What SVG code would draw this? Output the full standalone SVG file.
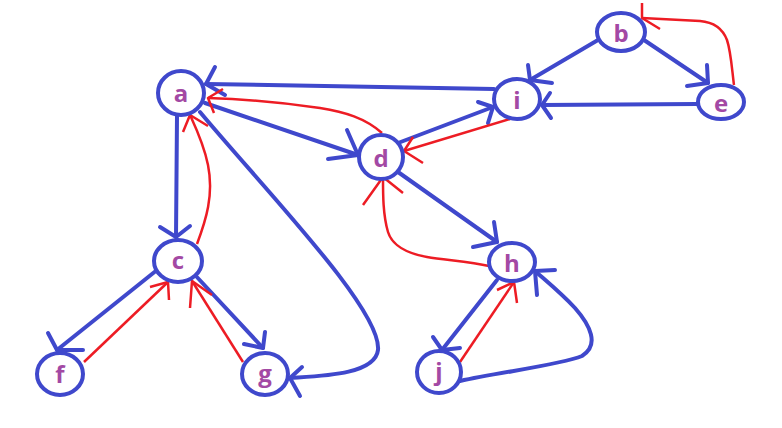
<svg xmlns="http://www.w3.org/2000/svg" width="782" height="428" viewBox="0 0 782 428">
<style>
.node ellipse{fill:#fff;stroke:#3f48cc;stroke-width:4}
.node text{font-family:"Open Sans","DejaVu Sans",sans-serif;font-weight:bold;font-size:24px;fill:#a349a4;text-anchor:middle}
.b{fill:none;stroke:#3f48cc;stroke-width:4;stroke-linecap:round;stroke-linejoin:round}
.r{fill:none;stroke:#ed1c24;stroke-width:2.5;stroke-linecap:butt;stroke-linejoin:round}
</style>
<rect width="782" height="428" fill="#fff"/>
<g id="connectors">
<!-- blue edges -->
<path class="b" d="M494 89 L206 84"/>
<polyline class="b" points="215,67 206,84 225,95"/>
<path class="b" d="M205 103 L358 155"/>
<polyline class="b" points="347,130 358,155 328,159"/>
<path class="b" d="M177 116 L176 237"/>
<polyline class="b" points="160,227 176,237 190,226"/>
<path class="b" d="M200 112 C265 190 382 310 378 350 C375 375 320 376 290 378"/>
<polyline class="b" points="302,367 290,378 300,396"/>
<path class="b" d="M157 270 L57 350"/>
<polyline class="b" points="48,333 57,350 83,350"/>
<path class="b" d="M195 275 L263 348"/>
<polyline class="b" points="265,332 263,348 244,344"/>
<path class="b" d="M598 40 L530 80"/>
<polyline class="b" points="528,65 530,80 552,83"/>
<path class="b" d="M644 40 L708 83"/>
<polyline class="b" points="707,65 708,83 687,86"/>
<path class="b" d="M697 104 L542 105"/>
<polyline class="b" points="550,93 542,105 551,118"/>
<path class="b" d="M398 143 L493 107"/>
<polyline class="b" points="478,102 493,107 488,123"/>
<path class="b" d="M398 172 L497 242"/>
<polyline class="b" points="494,222 497,242 473,247"/>
<path class="b" d="M497 280 L442 350"/>
<polyline class="b" points="433,337 442,350 460,348"/>
<path class="b" d="M460 381 C500 372 560 365 582 356 C600 345 590 325 575 308 C560 292 545 280 535 271"/>
<polyline class="b" points="555,270 535,271 537,295"/>
<!-- red edges -->
<path class="r" d="M382 133 C365 118 345 112 320 108 C280 102 240 99 208 98"/>
<polyline class="r" points="223,89 208,98 214,113"/>
<path class="r" d="M197 244 C206 220 214 195 208 165 C204 145 196 128 190 115"/>
<polyline class="r" points="183,132 190,115 208,126"/>
<path class="r" d="M84 362 L168 282"/>
<polyline class="r" points="150,287 168,282 169,300"/>
<path class="r" d="M243 362 L192 281"/>
<polyline class="r" points="190,308 192,281 212,295"/>
<path class="r" d="M734 85 C732 70 731 52 727 40 C722 27 712 22 700 21 L642 18"/>
<polyline class="r" points="642,3 642,18 660,29"/>
<path class="r" d="M510 119 L404 151"/>
<polyline class="r" points="413,137 404,151 423,163"/>
<path class="r" d="M489 266 C470 262 445 260 427 257 C405 253 392 245 388 232 C383 215 383 195 383 177"/>
<polyline class="r" points="363,205 383,177 403,193"/>
<path class="r" d="M460 362 L514 282"/>
<polyline class="r" points="497,290 514,282 517,303"/>
</g>
<g id="node-a" class="node"><ellipse cx="181" cy="93" rx="23" ry="22"/><text x="181" y="102">a</text></g>
<g id="node-b" class="node"><ellipse cx="621" cy="32" rx="24" ry="19"/><text x="621" y="42">b</text></g>
<g id="node-i" class="node"><ellipse cx="517" cy="99" rx="23" ry="20"/><text x="517" y="109">i</text></g>
<g id="node-e" class="node"><ellipse cx="721" cy="102" rx="23" ry="17"/><text x="721" y="112">e</text></g>
<g id="node-d" class="node"><ellipse cx="381" cy="157" rx="22" ry="22"/><text x="381" y="167">d</text></g>
<g id="node-c" class="node"><ellipse cx="178" cy="261" rx="24" ry="21"/><text x="178" y="269">c</text></g>
<g id="node-f" class="node"><ellipse cx="60" cy="374" rx="23" ry="21"/><text x="60" y="383">f</text></g>
<g id="node-g" class="node"><ellipse cx="265" cy="374" rx="23" ry="21"/><text x="265" y="382">g</text></g>
<g id="node-h" class="node"><ellipse cx="512" cy="262" rx="23" ry="19"/><text x="512" y="272">h</text></g>
<g id="node-j" class="node"><ellipse cx="439" cy="372" rx="22" ry="21"/><text x="439" y="380">j</text></g>
</svg>
